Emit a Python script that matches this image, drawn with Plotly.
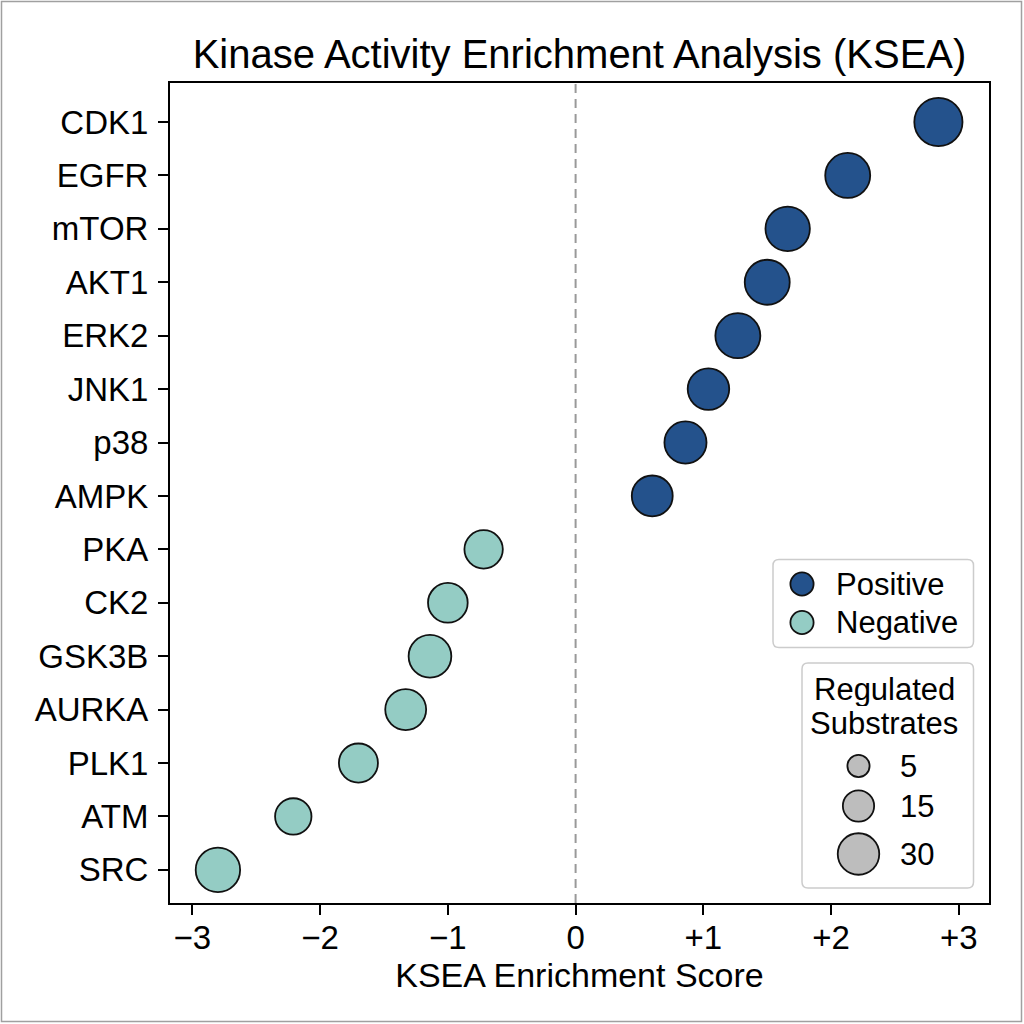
import math
import plotly.graph_objects as go

# ---------------- data ----------------
kinases = ["CDK1", "EGFR", "mTOR", "AKT1", "ERK2", "JNK1", "p38", "AMPK",
           "PKA", "CK2", "GSK3B", "AURKA", "PLK1", "ATM", "SRC"]
scores = [2.84, 2.13, 1.66, 1.50, 1.27, 1.04, 0.86, 0.60,
          -0.72, -1.00, -1.14, -1.33, -1.70, -2.21, -2.80]
substrates = [42, 36, 35, 36, 36, 30, 31, 29,
              25, 27, 32, 29, 26, 22, 35]
tick_vals = [-3, -2, -1, 0, 1, 2, 3]
tick_text = ["\u22123", "\u22122", "\u22121", "0", "+1", "+2", "+3"]
size_legend_values = [5, 15, 30]
direction_labels = ["Positive", "Negative"]
size_legend_title = ["Regulated", "Substrates"]

# ---------------- style ----------------
FONT = "Liberation Sans, Arial, Helvetica, sans-serif"
POS_COLOR = "#24528c"
NEG_COLOR = "#94ccc4"
EDGE = "#111111"
EDGE_W = 1.8
ML, MR, MT, MB = 170, 35, 83, 121
W = H = 1024
X0, X1 = ML, W - MR          # plot area in pixels
Y0, Y1 = MT, H - MB


def msize(n):
    # area-proportional marker diameter (px)
    return math.sqrt(316 + 52 * n) - EDGE_W


fig = go.Figure()

pos_idx = [i for i, s in enumerate(scores) if s >= 0]
neg_idx = [i for i, s in enumerate(scores) if s < 0]
for idx, col, name in [(pos_idx, POS_COLOR, direction_labels[0]),
                       (neg_idx, NEG_COLOR, direction_labels[1])]:
    fig.add_trace(go.Scatter(
        x=[scores[i] for i in idx],
        y=[kinases[i] for i in idx],
        mode="markers",
        name=name,
        showlegend=False,
        marker=dict(size=[msize(substrates[i]) for i in idx], color=col,
                    line=dict(color=EDGE, width=EDGE_W), opacity=1),
    ))

# ---------------- custom legends (pixel overlay axes) ----------------
dir_cy = [584, 622.5]
fig.add_trace(go.Scatter(
    x=[802, 802], y=dir_cy, xaxis="x2", yaxis="y2", mode="markers",
    showlegend=False, hoverinfo="skip",
    marker=dict(size=[25 - EDGE_W, 25 - EDGE_W], color=[POS_COLOR, NEG_COLOR],
                line=dict(color=EDGE, width=EDGE_W), opacity=1),
))
size_cy = [766, 806, 854]
fig.add_trace(go.Scatter(
    x=[858.5] * len(size_legend_values), y=size_cy, xaxis="x2", yaxis="y2",
    mode="markers", showlegend=False, hoverinfo="skip",
    marker=dict(size=[msize(v) for v in size_legend_values], color="#bdbdbd",
                line=dict(color=EDGE, width=EDGE_W), opacity=1),
))


def rrect(x0, y0, x1, y1, r=6):
    return (f"M{x0+r},{y0} L{x1-r},{y0} Q{x1},{y0} {x1},{y0+r} "
            f"L{x1},{y1-r} Q{x1},{y1} {x1-r},{y1} L{x0+r},{y1} "
            f"Q{x0},{y1} {x0},{y1-r} L{x0},{y0+r} Q{x0},{y0} {x0+r},{y0} Z")


shapes = [
    dict(type="line", xref="x", yref="paper", x0=0, x1=0, y0=0, y1=1,
         line=dict(color="#999999", width=2, dash="9px,6px"), layer="below"),
    dict(type="path", xref="x2", yref="y2", path=rrect(773, 559.5, 973.5, 647.5),
         line=dict(color="#cccccc", width=1.5), fillcolor="rgba(0,0,0,0)",
         layer="below"),
    dict(type="path", xref="x2", yref="y2", path=rrect(802, 663, 973.5, 888),
         line=dict(color="#cccccc", width=1.5), fillcolor="rgba(0,0,0,0)",
         layer="below"),
    dict(type="rect", xref="paper", yref="paper",
         x0=(1.5 - X0) / (X1 - X0), x1=(1021.5 - X0) / (X1 - X0),
         y0=(Y1 - 1021.5) / (Y1 - Y0), y1=(Y1 - 1.5) / (Y1 - Y0),
         line=dict(color="#a0a0a0", width=1.5)),
]

LEG_FONT = dict(family=FONT, size=31, color="black")
annotations = []
for lab, cy in zip(direction_labels, dir_cy):
    annotations.append(dict(xref="x2", yref="y2", x=834, y=cy, text=lab,
                            showarrow=False, xanchor="left", yanchor="middle",
                            font=LEG_FONT))
for lab, cy in zip(size_legend_title, [689, 723]):
    annotations.append(dict(xref="x2", yref="y2", x=884, y=cy, text=lab,
                            showarrow=False, xanchor="center", yanchor="middle",
                            font=LEG_FONT, height=34, valign="middle"))
for v, cy in zip(size_legend_values, size_cy):
    annotations.append(dict(xref="x2", yref="y2", x=898, y=cy, text=str(v),
                            showarrow=False, xanchor="left", yanchor="middle",
                            font=LEG_FONT))

fig.update_layout(
    width=W, height=H,
    margin=dict(l=ML, r=MR, t=MT, b=MB, pad=0),
    paper_bgcolor="white", plot_bgcolor="white",
    font=dict(family=FONT, color="black"),
    title=dict(text="Kinase Activity Enrichment Analysis (KSEA)",
               x=0.5, xref="paper", xanchor="center",
               y=1 - 54 / H, yref="container", yanchor="middle",
               font=dict(family=FONT, size=40, color="black")),
    xaxis=dict(range=[-3.175, 3.236], tickvals=tick_vals, ticktext=tick_text,
               ticks="outside", ticklen=10, tickwidth=2, tickcolor="black",
               showline=True, linecolor="black", linewidth=2, mirror=True,
               showgrid=False, zeroline=False, ticklabelstandoff=-6,
               tickfont=dict(family=FONT, size=33, color="black"),
               title=dict(text="KSEA Enrichment Score", standoff=0,
                          font=dict(family=FONT, size=34, color="black"))),
    yaxis=dict(type="category", categoryorder="array", categoryarray=kinases,
               range=[14.62, -0.73],
               ticks="outside", ticklen=10, tickwidth=2, tickcolor="black",
               showline=True, linecolor="black", linewidth=2, mirror=True,
               showgrid=False, zeroline=False, ticklabelstandoff=3,
               tickfont=dict(family=FONT, size=33, color="black")),
    xaxis2=dict(overlaying="x", range=[X0, X1], visible=False, fixedrange=True),
    yaxis2=dict(overlaying="y", range=[Y1, Y0], visible=False, fixedrange=True),
    shapes=shapes,
    annotations=annotations,
    showlegend=False,
)

fig.write_html("out.html")
